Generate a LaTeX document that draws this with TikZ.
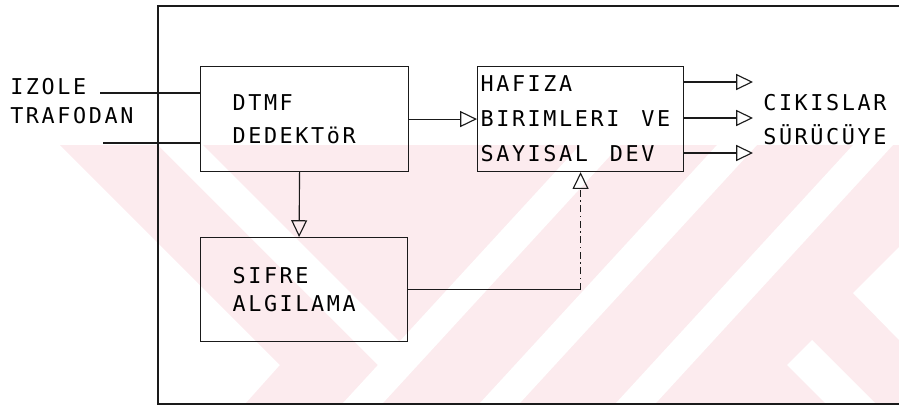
\documentclass[tikz,border=0pt]{standalone}
\usepackage{fontspec}
\usetikzlibrary{positioning,arrows.meta,calc}
\newfontfamily\plotfont[LetterSpace=12]{DejaVu Sans Mono}
\definecolor{wMark}{HTML}{FCEBEE}
\definecolor{wLine}{HTML}{1A1A1A}
\tikzset{
  txt/.style={font=\plotfont\fontsize{15.5pt}{20.6pt}\selectfont, align=left},
  blk/.style={txt, draw=wLine, line width=0.8pt, anchor=north west,
              minimum height=26.25mm, inner xsep=8mm, text width=36mm},
  lbl/.style={txt, anchor=north west, inner sep=0pt},
  wire/.style={draw=wLine, line width=0.8pt},
  flow/.style={wire, -{Triangle[open, length=4.2mm, width=4mm]}},
  ctrl/.style={flow, dash pattern=on 5pt off 2.5pt on 1pt off 2.5pt},
}
\newcommand{\wgap}{\hspace{1em}}

\begin{document}
\begin{tikzpicture}[x=0.25mm, y=-0.25mm]
\useasboundingbox (0,0) rectangle (899,407);

%% ── faint stripes behind the drawing ─────────────────────────────────────
\fill[wMark] (60,145) -- (899,145) -- (899,403) -- (246,403) -- (280,365) -- cycle;
\fill[white] (158,145) -- (203,145) -- (410,352) -- (393,380) -- cycle;
\fill[white] (580,145) -- (620,145) -- (383,403) -- (343,403) -- cycle;
\fill[white] (717,145) -- (757,145) -- (520,403) -- (480,403) -- cycle;
\fill[white] (853,145) -- (893,145) -- (656,403) -- (616,403) -- cycle;
\fill[white] (853,293) -- (899,247) -- (899,340) -- cycle;
\fill[white] (787,365) -- (812,340) -- (875,403) -- (825,403) -- cycle;

%% ── frame ─────────────────────────────────────────────────────────────────
\draw[wire] (899,6) -- (158,6) -- (158,404) -- (899,404);

%% ── blocks on fixed coordinates ───────────────────────────────────────────
\node[blk] (dtmf) at (200,66) {DTMF\\[2.8pt]DEDEKTöR};
\node[blk, inner xsep=0.75mm, text width=50mm] (hafiza) at (477,66)
  {HAFIZA\\[4.3pt]BIRIMLERI\wgap VE\\[4.3pt]SAYISAL\wgap DEV};
\node[blk, minimum height=26mm, text width=35.75mm] (sifre) at (200,237)
  {SIFRE\\ALGILAMA};

\node[lbl] (src) at (10,78) {IZOLE\\TRAFODAN};
\node[lbl] (dst) at (763,94) {CIKISLAR\\[3.5pt]SÜRÜCÜYE};

%% ── inputs ────────────────────────────────────────────────────────────────
\coordinate (in1) at (100,93);
\coordinate (in2) at (103,143);
\draw[wire] (in1) -- (in1 -| dtmf.west);
\draw[wire] (in2) -- (in2 -| dtmf.west);

%% ── forward path ──────────────────────────────────────────────────────────
\draw[flow] (dtmf.east) -- (hafiza.west);
\draw[flow] ([xshift=-1.25mm]dtmf.south) -- ([xshift=-1.25mm]sifre.north);

\coordinate (turn) at (sifre.east -| hafiza.south);
\draw[wire] (sifre.east) -- (turn);
\draw[ctrl] (turn) -- (hafiza.south);

%% ── outputs ───────────────────────────────────────────────────────────────
\coordinate (out1) at (753,82);
\coordinate (out2) at (753,118);
\coordinate (out3) at (753,153);
\foreach \o in {out1,out2,out3}
  \draw[flow] (hafiza.east |- \o) -- (\o);

\end{tikzpicture}
\end{document}
